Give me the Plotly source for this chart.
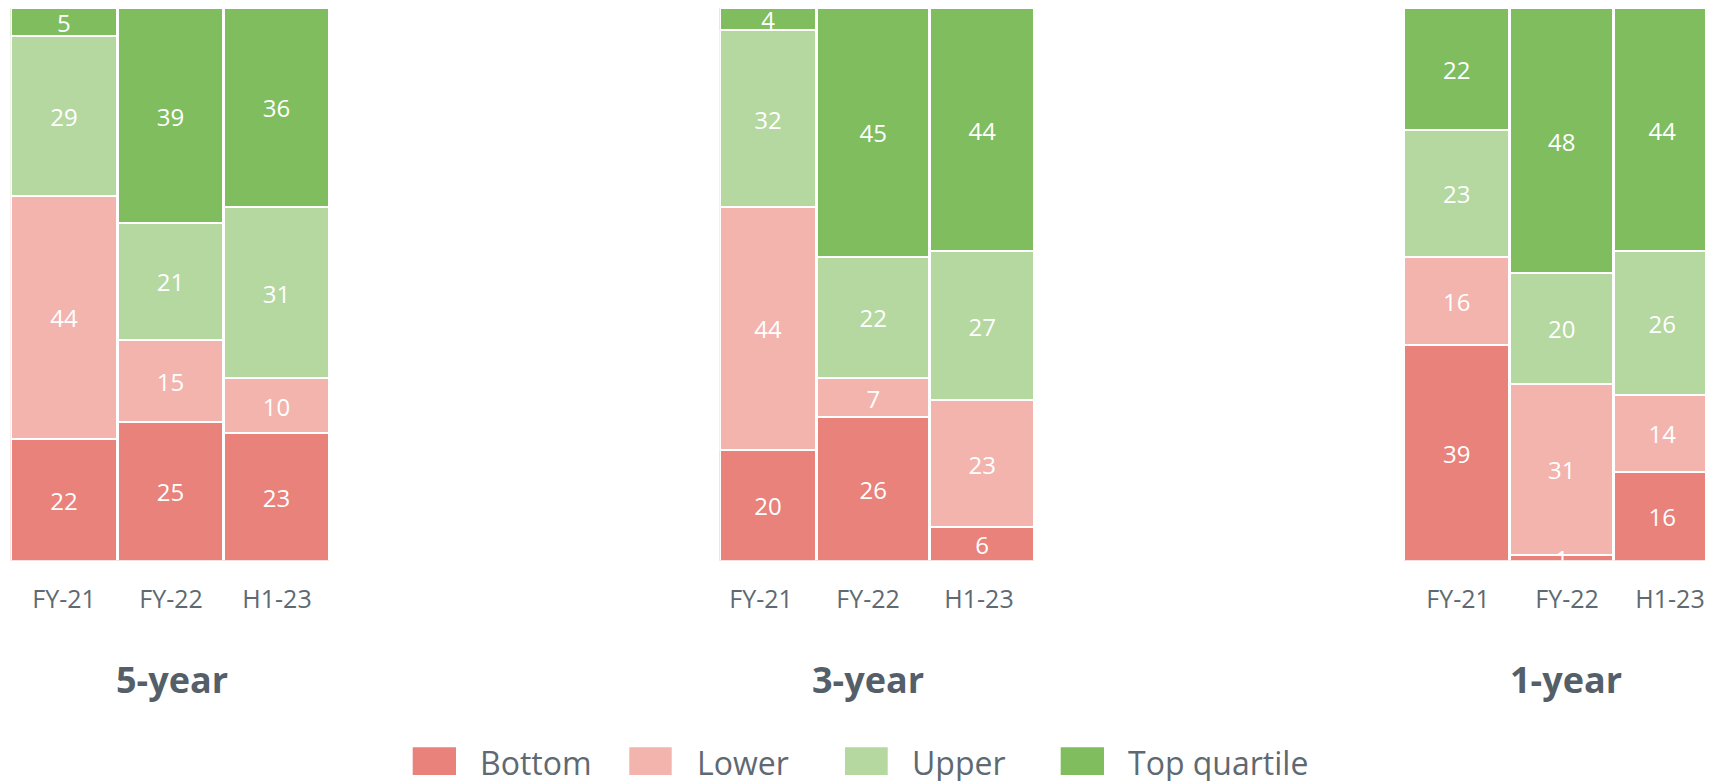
import plotly.graph_objects as go

# ---- data ----
categories = ["FY-21", "FY-22", "H1-23"]
panel_titles = ["5-year", "3-year", "1-year"]
quartiles = ["Bottom", "Lower", "Upper", "Top quartile"]

bottom_5y = [22, 25, 23]
lower_5y = [44, 15, 10]
upper_5y = [29, 21, 31]
top_5y = [5, 39, 36]

bottom_3y = [20, 26, 6]
lower_3y = [44, 7, 23]
upper_3y = [32, 22, 27]
top_3y = [4, 45, 44]

bottom_1y = [39, 1, 16]
lower_1y = [16, 31, 14]
upper_1y = [23, 20, 26]
top_1y = [22, 48, 44]

# ---- styling / layout constants ----
PAGE_OFF = 8          # default body margin of the html page
W, H = 1713 - PAGE_OFF, 781 - PAGE_OFF
colors = ["#E8827A", "#F3B4AE", "#B5D7A0", "#7FBD5F"]
tick_color = "#5E6972"
title_color = "#545F69"
FONT = "Open Sans"


def px_x(px):
    return (px - PAGE_OFF) / W


def px_y(py):
    return 1 - (py - PAGE_OFF) / H


# bar boundaries per panel (page-pixel units used as the x-axis scale)
panel_edges = [
    [10.5, 117.35, 223.85, 329.2],
    [719.5, 816.7, 929.85, 1034.5],
    [1403.8, 1509.5, 1614.15, 1710.5],
]
# category label positions on the same scale
panel_label_pos = [
    [64, 171, 277],
    [761, 868, 979],
    [1458, 1567, 1670],
]
plot_top_px, plot_bottom_px = 7.8, 560.5
LABEL_SHIFT_PX = 4    # nudge value labels down a little
label_dy = -LABEL_SHIFT_PX * 100 / (plot_bottom_px - plot_top_px)
title_x_px = [171.5, 867.5, 1566]
title_y_px = 679

panel_series = [
    [bottom_5y, lower_5y, upper_5y, top_5y],
    [bottom_3y, lower_3y, upper_3y, top_3y],
    [bottom_1y, lower_1y, upper_1y, top_1y],
]

fig = go.Figure()
layout_axes = {}
for p, (edges, series) in enumerate(zip(panel_edges, panel_series)):
    centers = [(edges[i] + edges[i + 1]) / 2 for i in range(3)]
    widths = [edges[i + 1] - edges[i] for i in range(3)]
    xa = "x" if p == 0 else f"x{p+1}"
    ya = "y" if p == 0 else f"y{p+1}"
    for q, (name, vals) in enumerate(zip(quartiles, series)):
        fig.add_trace(go.Bar(
            x=centers, y=vals, width=widths, name=name,
            xaxis=xa, yaxis=ya,
            marker=dict(color=colors[q], line=dict(color="white", width=2.4)),
            showlegend=False, hovertemplate=f"{name}: %{{y}}<extra></extra>",
        ))
    # value labels drawn above all bars (segment midpoints from the data)
    cum = [0, 0, 0]
    for q, vals in enumerate(series):
        mids = [cum[i] + vals[i] / 2 + label_dy for i in range(3)]
        cum = [cum[i] + vals[i] for i in range(3)]
        fig.add_trace(go.Scatter(
            x=centers, y=mids, mode="text", text=[str(v) for v in vals],
            textposition="middle center", cliponaxis=True,
            textfont=dict(family=FONT, size=24, color="white"),
            xaxis=xa, yaxis=ya, showlegend=False, hoverinfo="skip",
        ))
    suffix = "" if p == 0 else str(p + 1)
    layout_axes["xaxis" + suffix] = dict(
        domain=[max(0, px_x(edges[0])), min(1, px_x(edges[-1]))],
        range=[edges[0], edges[-1]],
        tickmode="array", tickvals=panel_label_pos[p], ticktext=categories,
        showgrid=False, zeroline=False, showline=False, ticks="",
        ticklabelstandoff=21,
        tickfont=dict(family=FONT, size=25, color=tick_color),
        anchor=ya, fixedrange=True,
    )
    layout_axes["yaxis" + suffix] = dict(
        domain=[px_y(plot_bottom_px), min(1, px_y(plot_top_px))], range=[0, 100],
        visible=False, anchor=xa, fixedrange=True,
    )

annotations = []
for t, xp in zip(panel_titles, title_x_px):
    annotations.append(dict(
        text=f"<b>{t}</b>", x=px_x(xp), y=px_y(title_y_px), xref="paper", yref="paper",
        xanchor="center", yanchor="middle", showarrow=False,
        font=dict(family=FONT, size=36, color=title_color),
    ))

# custom legend (large swatches)
legend_sq = [(412.7, 456.0), (629.3, 671.7), (845.0, 887.7), (1060.7, 1104.0)]
legend_text_x = [478, 695, 910, 1126]
sq_top, sq_bot, legend_y = 747.3, 775.0, 762
shapes = []
for q, name in enumerate(quartiles):
    x0, x1 = legend_sq[q]
    shapes.append(dict(type="rect", xref="paper", yref="paper",
                       x0=px_x(x0), x1=px_x(x1), y0=px_y(sq_bot), y1=px_y(sq_top),
                       fillcolor=colors[q], line=dict(width=0)))
    annotations.append(dict(
        text=name, x=px_x(legend_text_x[q]), y=px_y(legend_y), xref="paper", yref="paper",
        xanchor="left", yanchor="middle", showarrow=False,
        font=dict(family=FONT, size=32, color=tick_color),
    ))

fig.update_layout(
    width=W, height=H, barmode="stack", bargap=0,
    margin=dict(l=0, r=0, t=0, b=0),
    paper_bgcolor="white", plot_bgcolor="white",
    annotations=annotations, shapes=shapes, showlegend=False,
    **layout_axes,
)

fig.write_html("out.html")
